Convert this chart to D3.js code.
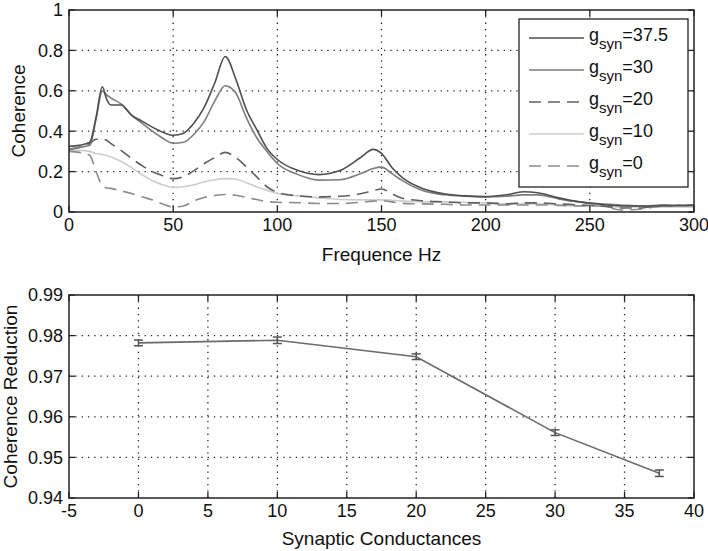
<!DOCTYPE html>
<html><head><meta charset="utf-8">
<script src="https://cdn.jsdelivr.net/npm/d3@7"></script>
<style>
body{margin:0;background:#fff;}
svg{display:block;font-family:"Liberation Sans",Arial,sans-serif;}
</style></head><body>
<svg id="c" width="708" height="551"></svg>
<script>
// ---------- data: top panel (coherence vs frequency) ----------
const freq = [0,5,10,13,16,18,20,25,30,35,40,45,50,55,60,65,70,75,80,85,90,95,100,110,120,130,140,146,150,155,160,170,180,190,200,210,218,225,235,245,255,265,275,285,300];
const g375 = [0.325,0.33,0.345,0.47,0.62,0.56,0.53,0.53,0.48,0.45,0.42,0.395,0.38,0.39,0.44,0.52,0.64,0.77,0.66,0.51,0.41,0.315,0.26,0.205,0.185,0.205,0.27,0.31,0.29,0.22,0.17,0.115,0.09,0.08,0.076,0.085,0.10,0.095,0.07,0.05,0.038,0.03,0.03,0.03,0.035];
const g30  = [0.31,0.32,0.33,0.46,0.60,0.58,0.565,0.535,0.48,0.44,0.40,0.365,0.34,0.345,0.385,0.45,0.55,0.625,0.59,0.47,0.37,0.30,0.24,0.185,0.158,0.16,0.19,0.215,0.222,0.19,0.155,0.105,0.085,0.078,0.075,0.078,0.085,0.085,0.065,0.05,0.04,0.035,0.03,0.035,0.03];
const g20  = [0.31,0.32,0.34,0.36,0.36,0.355,0.34,0.305,0.265,0.23,0.2,0.18,0.165,0.175,0.205,0.24,0.27,0.295,0.27,0.225,0.175,0.125,0.097,0.08,0.075,0.078,0.09,0.105,0.114,0.09,0.068,0.055,0.05,0.045,0.045,0.04,0.045,0.045,0.04,0.035,0.03,0.02,0.02,0.035,0.03];
const g10  = [0.305,0.305,0.30,0.29,0.285,0.28,0.274,0.25,0.22,0.185,0.155,0.135,0.122,0.125,0.135,0.15,0.16,0.165,0.163,0.145,0.125,0.108,0.092,0.08,0.07,0.062,0.06,0.06,0.06,0.058,0.055,0.05,0.05,0.048,0.045,0.04,0.04,0.04,0.035,0.03,0.03,0.025,0.025,0.025,0.025];
const g0   = [0.30,0.295,0.28,0.20,0.13,0.12,0.117,0.105,0.092,0.075,0.06,0.04,0.025,0.03,0.055,0.072,0.082,0.087,0.083,0.072,0.062,0.052,0.048,0.046,0.042,0.042,0.048,0.054,0.056,0.05,0.043,0.04,0.038,0.035,0.035,0.035,0.035,0.035,0.033,0.03,0.03,0.01,0.015,0.03,0.035];
const seriesNames = ["37.5","30","20","10","0"];
const freqTicks = [0,50,100,150,200,250,300];
const cohTicks = [0,0.2,0.4,0.6,0.8,1];
const cohTickLabels = ["0","0.2","0.4","0.6","0.8","1"];

// ---------- data: bottom panel (coherence reduction) ----------
const gsyn = [0,10,20,30,37.5];
const reduction = [0.9782,0.97885,0.9748,0.9561,0.9461];
const reductionErr = [0.0007,0.0008,0.0007,0.0007,0.0008];
const gTicks = [-5,0,5,10,15,20,25,30,35,40];
const redTicks = [0.94,0.95,0.96,0.97,0.98,0.99];

// ---------- styles ----------
const styles = [
  {color:"#4f4f4f", dash:null},
  {color:"#7c7c7c", dash:null},
  {color:"#606060", dash:"12,7"},
  {color:"#cccccc", dash:null},
  {color:"#8c8c8c", dash:"12,7"}
];
const values = [g375,g30,g20,g10,g0];

const svg = d3.select("#c");
const L = 69, R = 694;

function frame(g, x, y, xt, yt, top, bottom){
  g.append("g").selectAll("line").data(xt.slice(1,-1)).join("line")
    .attr("x1",d=>x(d)).attr("x2",d=>x(d)).attr("y1",top).attr("y2",bottom)
    .attr("stroke","#222").attr("stroke-width",1.3).attr("stroke-dasharray","1.3,5");
  g.append("g").selectAll("line").data(yt.slice(1,-1)).join("line")
    .attr("y1",d=>y(d)).attr("y2",d=>y(d)).attr("x1",L).attr("x2",R)
    .attr("stroke","#222").attr("stroke-width",1.3).attr("stroke-dasharray","1.3,5");
}
function box(g, x, y, xt, yt, fmtX, fmtY, top, bottom){
  const tl = 6;
  xt.forEach(d=>{
    g.append("line").attr("x1",x(d)).attr("x2",x(d)).attr("y1",bottom).attr("y2",bottom-tl).attr("stroke","#222").attr("stroke-width",1.3);
    g.append("line").attr("x1",x(d)).attr("x2",x(d)).attr("y1",top).attr("y2",top+tl).attr("stroke","#222").attr("stroke-width",1.3);
  });
  yt.forEach(d=>{
    g.append("line").attr("x1",L).attr("x2",L+tl).attr("y1",y(d)).attr("y2",y(d)).attr("stroke","#222").attr("stroke-width",1.3);
    g.append("line").attr("x1",R).attr("x2",R-tl).attr("y1",y(d)).attr("y2",y(d)).attr("stroke","#222").attr("stroke-width",1.3);
  });
  g.append("rect").attr("x",L).attr("y",top).attr("width",R-L).attr("height",bottom-top)
    .attr("fill","none").attr("stroke","#222").attr("stroke-width",1.5);
  g.append("g").selectAll("text").data(xt).join("text")
    .attr("x",d=>x(d)).attr("y",bottom+18.5).attr("text-anchor","middle")
    .attr("font-size",18).attr("fill","#111").text(fmtX);
  g.append("g").selectAll("text").data(yt).join("text")
    .attr("x",L-6).attr("y",d=>y(d)).attr("dy","0.36em").attr("text-anchor","end")
    .attr("font-size",18).attr("fill","#111").text(fmtY);
}

// ---------- top panel ----------
const T1 = 10, B1 = 212;
const x1 = d3.scaleLinear().domain([0,300]).range([L,R]);
const y1 = d3.scaleLinear().domain([0,1]).range([B1,T1]);
const gTop = svg.append("g");
frame(gTop, x1, y1, freqTicks, cohTicks, T1, B1);
const line1 = d3.line().x(d=>x1(d[0])).y(d=>y1(d[1])).curve(d3.curveMonotoneX);
[3,4,2,1,0].forEach(i=>{
  const pts = freq.map((f,k)=>[f, values[i][k]]);
  gTop.append("path").attr("d",line1(pts)).attr("fill","none")
    .attr("stroke",styles[i].color).attr("stroke-width",1.6)
    .attr("stroke-dasharray",styles[i].dash);
});
box(gTop, x1, y1, freqTicks, cohTicks, d=>d, (d,i)=>cohTickLabels[i], T1, B1);

// legend
const lg = gTop.append("g");
lg.append("rect").attr("x",519).attr("y",19).attr("width",169).attr("height",168)
  .attr("fill","#fff").attr("stroke","#222").attr("stroke-width",1.3);
seriesNames.forEach((n,i)=>{
  const yy = 38 + i*32;
  lg.append("line").attr("x1",529).attr("x2",584).attr("y1",yy).attr("y2",yy)
    .attr("stroke",styles[i].color).attr("stroke-width",1.6).attr("stroke-dasharray",styles[i].dash);
  const t = lg.append("text").attr("x",589).attr("y",yy+2.5).attr("font-size",18).attr("fill","#111");
  t.append("tspan").text("g");
  t.append("tspan").attr("font-size",15).attr("dy",8).text("syn");
  t.append("tspan").attr("dy",-8).text("="+n);
});

gTop.append("text").attr("x",(L+R)/2).attr("y",261).attr("text-anchor","middle")
  .attr("font-size",19).attr("fill","#111").text("Frequence Hz");
gTop.append("text").attr("transform",`translate(25,${(T1+B1)/2}) rotate(-90)`)
  .attr("text-anchor","middle").attr("font-size",19).attr("fill","#111").text("Coherence");

// ---------- bottom panel ----------
const T2 = 295, B2 = 498;
const x2 = d3.scaleLinear().domain([-5,40]).range([L,R]);
const y2 = d3.scaleLinear().domain([0.94,0.99]).range([B2,T2]);
const gBot = svg.append("g");
frame(gBot, x2, y2, gTicks, redTicks, T2, B2);
const line2 = d3.line().x(d=>x2(d[0])).y(d=>y2(d[1]));
gBot.append("path").attr("d",line2(gsyn.map((g,k)=>[g,reduction[k]])))
  .attr("fill","none").attr("stroke","#6a6a6a").attr("stroke-width",1.6);
gsyn.forEach((g,k)=>{
  const cx = x2(g), lo = y2(reduction[k]-reductionErr[k]), hi = y2(reduction[k]+reductionErr[k]);
  const eb = gBot.append("g").attr("stroke","#555").attr("stroke-width",1.5);
  eb.append("line").attr("x1",cx).attr("x2",cx).attr("y1",lo).attr("y2",hi);
  eb.append("line").attr("x1",cx-4.5).attr("x2",cx+4.5).attr("y1",lo).attr("y2",lo);
  eb.append("line").attr("x1",cx-4.5).attr("x2",cx+4.5).attr("y1",hi).attr("y2",hi);
});
box(gBot, x2, y2, gTicks, redTicks, d=>d, d=>d3.format(".2f")(d), T2, B2);
gBot.append("text").attr("x",(L+R)/2).attr("y",545).attr("text-anchor","middle")
  .attr("font-size",19).attr("fill","#111").text("Synaptic Conductances");
gBot.append("text").attr("transform",`translate(17,${(T2+B2)/2}) rotate(-90)`)
  .attr("text-anchor","middle").attr("font-size",19).attr("fill","#111").text("Coherence Reduction");
</script>
</body></html>
